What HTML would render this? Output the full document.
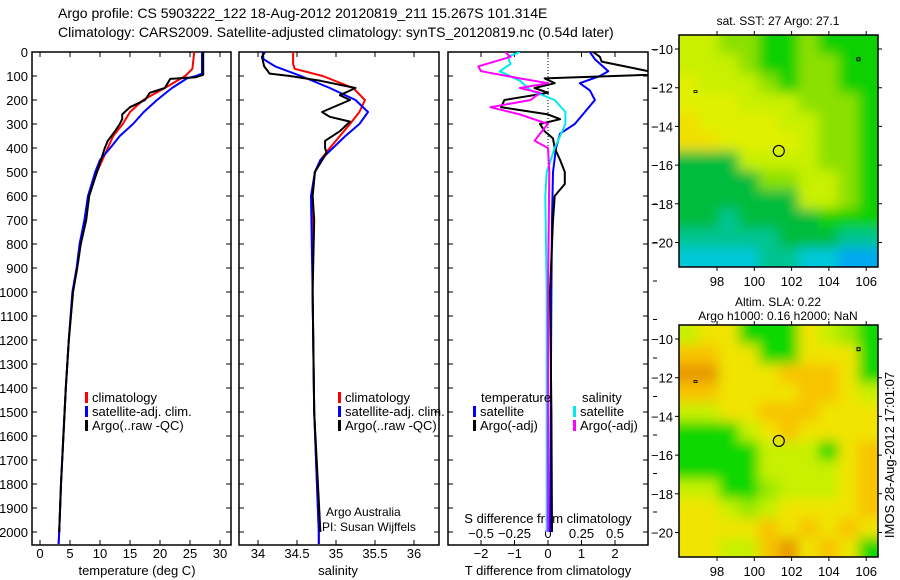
<!DOCTYPE html>
<html><head><meta charset="utf-8"><style>
html,body{margin:0;padding:0;background:#fff;}
svg{display:block;font-family:"Liberation Sans",sans-serif;}
</style></head><body>
<svg id="fig" width="900" height="580" viewBox="0 0 900 580" xmlns="http://www.w3.org/2000/svg">
<text x="58" y="18" font-size="14">Argo profile: CS 5903222_122 18-Aug-2012 20120819_211 15.267S 101.314E</text>
<text x="58" y="37" font-size="14">Climatology: CARS2009. Satellite-adjusted climatology: synTS_20120819.nc (0.54d later)</text>
<g id="g"></g>
</svg>
<script>
// ---------- data ----------
const depthTicks=[0,100,200,300,400,500,600,700,800,900,1000,1100,1200,1300,1400,1500,1600,1700,1800,1900,2000];
const tempTicks=[0,5,10,15,20,25,30];
const salTicks=[34,34.5,35,35.5,36];
const tdiffTicks=[-2,-1,0,1,2];
const sdiffTicks=[-0.5,-0.25,0,0.25,0.5];
const sdiffTickLabels=["\u22120.5","\u22120.25","0","0.25","0.5"];
const tdiffTickLabels=["\u22122","\u22121","0","1","2"];

const tClimDepth=[0,70,100,150,200,250,300,350,400,500,600,700,800,900,1000,1200,1400,1600,1800,2000,2050];
const tClimVal=[25.7,25.4,24.2,20.8,17.2,15,13.8,12.2,11.3,9.5,8,7.5,6.7,6.2,5.5,4.8,4.3,3.9,3.5,3.2,3.1];
const tSatDepth=[0,90,100,110,150,200,250,300,350,400,450,500,600,700,800,900,1000,1200,1400,1600,1800,2000,2050];
const tSatVal=[27,27,26,24.5,22,19.5,17.3,15.5,13.3,11.7,10,9.2,8,7.4,6.6,6.1,5.4,4.8,4.3,3.9,3.5,3.2,3.1];
const tArgoDepth=[0,95,105,112,150,170,200,230,260,280,300,330,370,400,500,600,700,800,900,1000,1200,1400,1600,1800,2000];
const tArgoVal=[27.2,27.2,26,21.7,20.8,18.3,17.5,15,13.7,13.7,13.3,12.5,11.3,10.8,9.5,8.2,7.7,6.8,6.2,5.5,4.8,4.3,3.9,3.5,3.2];

const sClimDepth=[0,50,70,100,150,200,250,300,350,400,450,500,600,1000,1500,2000,2050];
const sClimVal=[34.45,34.45,34.47,34.83,35.22,35.37,35.3,35.18,35.05,34.92,34.8,34.73,34.7,34.7,34.72,34.78,34.78];
const sSatDepth=[0,30,60,100,150,200,250,300,350,400,450,500,600,1000,1500,2000,2050];
const sSatVal=[34.06,34.07,34.22,34.55,34.92,35.25,35.41,35.3,35.12,34.96,34.8,34.73,34.68,34.7,34.72,34.78,34.78];
const sArgoDepth=[0,20,60,90,100,120,150,180,200,250,270,290,330,370,400,420,500,600,700,1000,1500,2000];
const sArgoVal=[34.09,34.05,34.08,34.15,34.41,34.8,35.25,35.05,35.18,34.82,34.92,35.18,35.05,34.86,34.86,34.88,34.73,34.7,34.72,34.7,34.72,34.8];

const dTSatDepth=[0,30,80,100,130,160,200,250,300,340,400,500,700,1000,1500,2000];
const dTSatVal=[1.25,1.4,1.8,1.55,0.95,1.25,1.4,1.1,0.8,0.36,0.24,0.15,0.12,0.1,0.08,0.06];
const dTArgoDepth=[0,20,40,60,80,95,110,130,150,170,200,230,260,280,300,330,360,400,450,500,550,600,700,1000,1500,2000];
const dTArgoVal=[1.35,1.55,1.6,2.3,3.0,3.0,-0.1,0.2,-0.4,0,-1.3,-1.4,0,0.36,-0.24,-0.1,0.15,0.2,0.36,0.5,0.5,0.2,0.15,0.06,0.1,0.12];
const dSSatDepth=[0,20,50,80,120,160,200,250,300,350,400,500,600,1000,2000];
const dSSatVal=[-0.21,-0.3,-0.28,-0.36,-0.21,-0.13,0.05,0.13,0.13,0.09,0.05,-0.01,-0.02,-0.01,-0.01];
const dSArgoDepth=[0,20,60,80,110,130,150,170,200,230,260,300,340,370,400,500,1000,2000];
const dSArgoVal=[-0.32,-0.28,-0.52,-0.5,-0.21,0,-0.21,-0.06,-0.13,-0.43,-0.21,0,-0.06,-0.1,0,0.01,0,0];

const lonTicks=[98,100,102,104,106];
const latTicks=[-10,-12,-14,-16,-18,-20];
const argoLon=101.314, argoLat=-15.267;
const sstGrid=["yyLLGGLGGG","yyyLGGLLGG","YyyyLGLLGG","YYYyyyLLLG","OYYYYyyLLG","OOYYYYyLLG","DDDyyyyLLG","DDDDLLyyLG","DDDDDDyyLG","DDTDDDDGGG","TTTTTDDDTT","CCCCTTCCBB"];
const slaGrid=["yYYGGGYyLG","OOYYGGYYYG","RRYYYOOOYG","OOYYYYOOYy","yyYYOOOYYY","GGGyYOYYYY","GGGGyyyGYO","GGGGyyyyYO","yyGGLyyyYO","YYyLyYYYYO","YYYYOYOYOY","YYyyORYOYG"];
const sstColors={y:"#c8f000",Y:"#e0f000",L:"#8ce000",G:"#10d000",D:"#00bc3c",T:"#00c490",C:"#00c8d8",B:"#00a8f0",O:"#f0e000"};
const slaColors={R:"#e89a00",O:"#f8c400",Y:"#f0e400",y:"#c8f000",L:"#98e800",G:"#10d800"};

// ---------- helpers ----------
const NS="http://www.w3.org/2000/svg";
const G=document.getElementById('g');
function mk(t,a,p){const e=document.createElementNS(NS,t);for(const k in a)e.setAttribute(k,a[k]);(p||G).appendChild(e);return e;}
const Y0=52,YB=545;
function yD(d){return Y0+d*0.24;}
function xT(t){return 40+t*6;}
function xS(s){return 258+(s-34)*78;}
function xDT(t){return 548+t*33.5;}
function xDS(s){return 548+s*134;}

function panel(name,x1,x2){
  const r=mk('rect',{x:x1,y:Y0,width:x2-x1,height:YB-Y0,fill:'none',stroke:'#000','stroke-width':1.5});
  
  
  depthTicks.forEach(d=>{
    const y=yD(d);
    const t=mk('path',{d:`M${x1},${y}h5M${x2},${y}h-5`,stroke:'#000'});
    
    
  });
}
function xticks(name,vals,fx,labels){
  vals.forEach((v,i)=>{
    const x=fx(v);
    const t=mk('path',{d:`M${x},${YB}v-5M${x},${Y0}v5`,stroke:'#000'});
    
    
    const l=mk('text',{x:x,y:558,'font-size':13,'text-anchor':'middle'});
    l.textContent=labels?labels[i]:String(v);
    
    
  });
}
function line(name,ds,vs,fx,color,w,clip){
  const pts=ds.map((d,i)=>fx(vs[i]).toFixed(1)+','+yD(d).toFixed(1)).join(' ');
  const a={points:pts,fill:'none',stroke:color,'stroke-width':w||2,'stroke-linejoin':'round'};
  if(clip)a['clip-path']='url(#'+clip+')';
  const p=mk('polyline',a);
  
  
}
function txt(name,x,y,s,size,anchor){
  const t=mk('text',{x:x,y:y,'font-size':size||13,'text-anchor':anchor||'start'});
  t.textContent=s;
  
  
  return t;
}
function legend(name,x,y,color,label){
  const m=mk('rect',{x:x,y:y-10,width:3,height:11,fill:color});
  
  
  txt(name+'-label',x+7,y,label);
}

// clip paths
const defs=mk('defs',{});
[['c1',32,231],['c2',239,439],['c3',448,648]].forEach(c=>{
  const cp=mk('clipPath',{id:c[0]},defs);mk('rect',{x:c[1],y:Y0,width:c[2]-c[1],height:YB-Y0},cp);
});
const flt=mk('filter',{id:'blur',x:'-10%',y:'-10%',width:'120%',height:'120%'},defs);
mk('feGaussianBlur',{stdDeviation:6},flt);

// ---------- panel 1: temperature ----------
panel('temperature-panel',32,231);
depthTicks.forEach(d=>txt('depth-label',28,yD(d)+5,String(d),13,'end'));
xticks('temperature',tempTicks,xT);
txt('temperature-axis-title',137,575,'temperature (deg C)',13,'middle');
line('temp-climatology',tClimDepth,tClimVal,xT,'#ff0000',2,'c1');
line('temp-satellite-adj',tSatDepth,tSatVal,xT,'#0000ff',2,'c1');
line('temp-argo',tArgoDepth,tArgoVal,xT,'#000000',2,'c1');
legend('temp-legend-climatology',85,402,'#ff0000','climatology');
legend('temp-legend-satellite',85,416,'#0000ff','satellite-adj. clim.');
legend('temp-legend-argo',85,430,'#000000','Argo(..raw -QC)');

// ---------- panel 2: salinity ----------
panel('salinity-panel',239,439);
xticks('salinity',salTicks,xS);
txt('salinity-axis-title',338,575,'salinity',13,'middle');
line('sal-climatology',sClimDepth,sClimVal,xS,'#ff0000',2,'c2');
line('sal-satellite-adj',sSatDepth,sSatVal,xS,'#0000ff',2,'c2');
line('sal-argo',sArgoDepth,sArgoVal,xS,'#000000',2,'c2');
legend('sal-legend-climatology',338,402,'#ff0000','climatology');
legend('sal-legend-satellite',338,416,'#0000ff','satellite-adj. clim.');
legend('sal-legend-argo',338,430,'#000000','Argo(..raw -QC)');
txt('argo-australia-label',326,516,'Argo Australia',12);
txt('pi-label',322,531,'PI: Susan Wijffels',12);

// ---------- panel 3: differences ----------
panel('difference-panel',448,648);
const z=mk('line',{x1:548,y1:Y0,x2:548,y2:yD(500),stroke:'#000','stroke-dasharray':'1,2'});


xticks('tdiff',tdiffTicks,xDT,tdiffTickLabels);
txt('tdiff-axis-title',548,575,'T difference from climatology',13,'middle');
txt('sdiff-axis-title',548,523,'S difference from climatology',13,'middle');
sdiffTicks.forEach((v,i)=>{
  txt('sdiff-tick-label',xDS(v),538,sdiffTickLabels[i],13,'middle');
});
line('dT-satellite',dTSatDepth,dTSatVal,xDT,'#0000ff',2,'c3');
line('dT-argo',dTArgoDepth,dTArgoVal,xDT,'#000000',2,'c3');
line('dS-satellite',dSSatDepth,dSSatVal,xDS,'#00e8f0',2,'c3');
line('dS-argo',dSArgoDepth,dSArgoVal,xDS,'#ff00ff',2,'c3');
txt('diff-legend-temperature-header',481,402,'temperature');
txt('diff-legend-salinity-header',582,402,'salinity');
legend('diff-legend-t-satellite',473,416,'#0000ff','satellite');
legend('diff-legend-t-argo',473,430,'#000000','Argo(-adj)');
legend('diff-legend-s-satellite',573,416,'#00e8f0','satellite');
legend('diff-legend-s-argo',573,430,'#ff00ff','Argo(-adj)');
for(let y=50;y<545;y+=38.5){
  const t=mk('path',{d:`M653,${y.toFixed(1)}h4`,stroke:'#000'});
  
  
}

// ---------- maps ----------
function map(name,top,grid,colors,title1,title2,cid){
  const X1=679,X2=878,Yt=top,Yb=top+232;
  const lonX=l=>717+(l-98)*18.65;
  const latY=l=>top+14+(-10-l)*19.35;
  const cp=mk('clipPath',{id:cid},defs);mk('rect',{x:X1,y:Yt,width:X2-X1,height:Yb-Yt},cp);
  const outer=mk('g',{'clip-path':'url(#'+cid+')'});
  const cg=mk('g',{filter:'url(#blur)'},outer);
  const nc=grid[0].length,nr=grid.length;
  const cw=(X2-X1)/nc, ch=(Yb-Yt)/nr, ext=20;
  grid.forEach((row,r)=>{for(let c=0;c<nc;c++){
    let x=X1+c*cw,y=Yt+r*ch,w=cw+0.6,h=ch+0.6;
    if(c===0){x-=ext;w+=ext;} if(c===nc-1){w+=ext;}
    if(r===0){y-=ext;h+=ext;} if(r===nr-1){h+=ext;}
    const cell=mk('rect',{x:x.toFixed(1),y:y.toFixed(1),width:w.toFixed(1),height:h.toFixed(1),fill:colors[row[c]]},cg);
    
    
  }});
  const f=mk('rect',{x:X1,y:Yt,width:X2-X1,height:Yb-Yt,fill:'none',stroke:'#000','stroke-width':1.5});
  
  
  lonTicks.forEach(l=>{
    const x=lonX(l);
    const t=mk('path',{d:`M${x},${Yt}v-4M${x},${Yb}v4`,stroke:'#000'});
    
    
    txt(name+'-lon-label',x,Yb+19,String(l),13,'middle');
  });
  latTicks.forEach(l=>{
    const y=latY(l);
    const t=mk('path',{d:`M${X1},${y}h-4M${X2},${y}h4`,stroke:'#000'});
    
    
    txt(name+'-lat-label',673,y+5,'\u2212'+String(-l),13,'end');
  });
  const c=mk('circle',{cx:lonX(argoLon),cy:latY(argoLat),r:5.5,fill:'none',stroke:'#000','stroke-width':1.2});
  
  
  const i1=mk('rect',{x:694,y:latY(-12.2)-1,width:3,height:2,fill:'none',stroke:'#000','stroke-width':0.8});
  
  
  const i2=mk('rect',{x:857,y:latY(-10.5)-1,width:3,height:3,fill:'none',stroke:'#000','stroke-width':1});
  
  
  if(title2){txt(name+'-title',778,top-19,title1,12,'middle');txt(name+'-subtitle',778,top-5,title2,12,'middle');}
  else txt(name+'-title',778,top-10,title1,12,'middle');
}
map('sst-map',35,sstGrid,sstColors,'sat. SST: 27 Argo: 27.1',null,'m1');
map('sla-map',325,slaGrid,slaColors,'Altim. SLA: 0.22','Argo h1000: 0.16 h2000: NaN','m2');
const rt=txt('imos-timestamp',0,0,'IMOS 28-Aug-2012 17:01:07',13,'middle');
rt.setAttribute('transform','translate(894,455) rotate(-90)');
</script>
</body></html>
